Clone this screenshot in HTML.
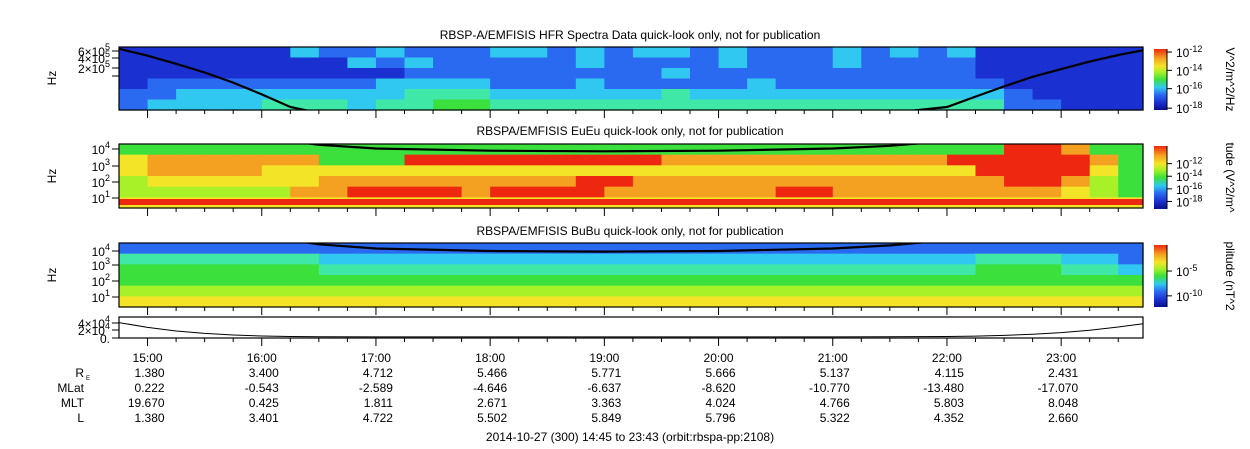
<!DOCTYPE html>
<html><head><meta charset="utf-8"><style>
html,body{margin:0;padding:0;background:#fff}
svg{display:block;font-family:"Liberation Sans",sans-serif}
</style></head><body>
<svg id="c" width="1250" height="449" viewBox="0 0 1250 449">
<defs>
<linearGradient id="cbg" x1="0" y1="1" x2="0" y2="0">
<stop offset="0" stop-color="#08108c"/><stop offset="0.12" stop-color="#1a30d0"/><stop offset="0.25" stop-color="#2a6af0"/>
<stop offset="0.37" stop-color="#30c8f0"/><stop offset="0.5" stop-color="#3ce03c"/><stop offset="0.62" stop-color="#a8f028"/>
<stop offset="0.72" stop-color="#f4e428"/><stop offset="0.85" stop-color="#f4a020"/><stop offset="1" stop-color="#ee2810"/>
</linearGradient>
</defs>
<g id="root"></g>
</svg>
<script>
const tStart = 14.75, tEnd = 23.7167;
const hourTicks = [15,16,17,18,19,20,21,22,23];
const hourLabels = ["15:00","16:00","17:00","18:00","19:00","20:00","21:00","22:00","23:00"];
const reVals = ["1.380","3.400","4.712","5.466","5.771","5.666","5.137","4.115","2.431"];
const mlatVals = ["0.222","-0.543","-2.589","-4.646","-6.637","-8.620","-10.770","-13.480","-17.070"];
const mltVals = ["19.670","0.425","1.811","2.671","3.363","4.024","4.766","5.803","8.048"];
const lVals = ["1.380","3.401","4.722","5.502","5.849","5.796","5.322","4.352","2.660"];
const hfrRows = [
"111111322322233232332322232323111111",
"111111113232222232222322232222111111",
"111111111122222222232222222222111111",
"122222222333322232222232222222211111",
"223333333344433333343333333333321111",
"233334443445544444444444444444422111"];
const eRows = [
"555555555555555555555555555555599855",
"788888855599999999988888888889999985",
"788887777777777777777777777777999975",
"677777788888888899888888888888899865",
"666666889999899998888889988888888765",
"777777777777777777777777777777777777"];
const bRows = [
"222222222222222222222222222222222222",
"444444433333333333333333333333444332",
"555555544444444444444444444444555443",
"555555555555555555555555555555555555",
"666666666666666666666666666666666666",
"777777777777777777777777777777777777"];
const fceTimes = [14.75,15.0,15.25,15.5,15.75,16.0,16.25,16.5,17,18,19,20,21,21.5,22,22.25,22.5,22.75,23,23.25,23.5,23.7167];
const fceVals = [36,24,15,9,5,2.5,1.2,0.6,0.3,0.2,0.18,0.2,0.3,0.5,1.2,2.2,4,7,11,17,25,33];

const palette = ['#08108c','#1a30d0','#2a6af0','#30c8f0','#40e8a8','#3ce03c','#a8f028','#f4e428','#f4a020','#ee2810'];
const root = document.getElementById('root');
const NS = 'http://www.w3.org/2000/svg';
const X0 = 119, X1 = 1143;
function xs(t){ return X0 + (t - tStart) / (tEnd - tStart) * (X1 - X0); }
function mk(tag, attrs, parent){ const e = document.createElementNS(NS, tag); for (const k in attrs) e.setAttribute(k, attrs[k]); (parent||root).appendChild(e); return e; }
function txt(s, x, y, anchor, size, parent){ const e = mk('text', {x:x, y:y, 'text-anchor':anchor||'start', 'font-size':size||12, fill:'#000'}, parent); e.textContent = s; return e; }

function spectro(rows, y0, y1, name){
  const g = mk('g', {});
  
  
  const nr = rows.length, nc = rows[0].length, h = (y1 - y0) / nr;
  for (let r = 0; r < nr; r++) for (let c = 0; c < nc; c++) {
    const ta = tStart + c * 0.25, tb = Math.min(tEnd, ta + 0.25);
    const cell = mk('rect', {x: xs(ta), y: y0 + r * h, width: xs(tb) - xs(ta) + 0.6, height: h + 0.6, fill: palette[+rows[r][c]]}, g);
    
    
  }
  return g;
}
function frame(y0, y1, name){
  const f = mk('rect', {x: X0, y: y0, width: X1 - X0, height: y1 - y0, fill: 'none', stroke: '#000', 'stroke-width': 1.2});
  
  
  for (let t = 15; t <= 23.5; t += 0.25) {
    const major = Math.abs(t - Math.round(t)) < 1e-6;
    mk('line', {x1: xs(t), x2: xs(t), y1: y1, y2: y1 + (major ? 8 : 4), stroke: '#000'});
  }
}
// log-scaled curve: vTop at panel top, decades = decades spanned by panel
function curve(y0, y1, vTop, decades, cls, name){
  let d = '';
  fceTimes.forEach((t, i) => {
    const y = y0 + Math.log10(vTop / fceVals[i]) / decades * (y1 - y0);
    d += (i ? 'L' : 'M') + xs(t).toFixed(1) + ',' + Math.max(y0 - 3, Math.min(y1 + 3, y)).toFixed(1);
  });
  const p = mk('path', {d: d, fill: 'none', stroke: '#000', 'stroke-width': 2.2, 'clip-path': 'url(#' + cls + ')'});
  
  
}
function clip(id, y0, y1){ const cp = mk('clipPath', {id: id}); mk('rect', {x: X0, y: y0, width: X1 - X0, height: y1 - y0}, cp); }
function colorbar(y0, y1, labels, unit, name){
  const g = mk('g', {});
  
  
  mk('rect', {x: 1154, y: y0, width: 13, height: y1 - y0, fill: 'url(#cbg)'}, g);
  mk('line', {x1: 1167, x2: 1167, y1: y0, y2: y1, stroke: '#000'}, g);
  labels.forEach(l => {
    const y = y0 + (+l[1]) * (y1 - y0);
    mk('line', {x1: 1167, x2: 1172, y1: y, y2: y, stroke: '#000'}, g);
    const t = mk('text', {x: 1176, y: y + 5, 'font-size': 12}, g);
    t.textContent = l[0];
    const s = mk('tspan', {dy: -5, 'font-size': 9}, t); s.textContent = l[2];
  });
  const u = mk('text', {x: 0, y: 0, 'font-size': 12, transform: 'translate(1226,' + ((y0 + y1) / 2) + ') rotate(90)', 'text-anchor': 'middle'}, g);
  u.textContent = unit;
}
function ylab(s, y){ const e = mk('text', {'font-size': 12, 'text-anchor': 'middle', transform: 'translate(56,' + y + ') rotate(-90)'}); e.textContent = s;   }
function ytick(label, sup, y){ mk('line', {x1: 112, x2: X0, y1: y, y2: y, stroke: '#000'}); const t = mk('text', {x: 110, y: y + 5, 'font-size': 12, 'text-anchor': 'end'}); t.textContent = label; if (sup) { const s = mk('tspan', {dy: -6, 'font-size': 9}, t); s.textContent = sup; } }

clip('c1', 47, 110); clip('c2', 144, 208); clip('c3', 243, 307);

// panel 1
let tt = txt('RBSP-A/EMFISIS  HFR Spectra Data quick-look only, not for publication', 630, 39, 'middle', 12);
 
spectro(hfrRows, 47, 110, 'hfr-spectrogram');
curve(47, 110, 40, 1.6, 'c1', 'hfr-gyrofrequency-line');
frame(47, 110, 'hfr-panel-frame');
ytick('6×10', '5', 51); ytick('4×10', '5', 58); ytick('2×10', '5', 68); mk('line', {x1: 112, x2: X0, y1: 76, y2: 76, stroke: '#000'});
ylab('Hz', 78);
colorbar(49, 110, [['10','0.05','-12'],['10','0.35','-14'],['10','0.65','-16'],['10','0.97','-18']], 'V^2/m^2/Hz', 'hfr-colorbar');

// panel 2
tt = txt('RBSPA/EMFISIS  EuEu quick-look only, not for publication', 630, 135, 'middle', 12);
 
spectro(eRows, 144, 208, 'eueu-spectrogram');
const rs = mk('rect', {x: X0, y: 199, width: X1 - X0, height: 6, fill: palette[9]});  
curve(144, 208, 0.7, 5.2, 'c2', 'eueu-gyrofrequency-line');
frame(144, 208, 'eueu-panel-frame');
ytick('10', '4', 149); ytick('10', '3', 166); ytick('10', '2', 182); ytick('10', '1', 198);
ylab('Hz', 176);
colorbar(146, 209, [['10','0.28','-12'],['10','0.48','-14'],['10','0.68','-16'],['10','0.88','-18']], 'tude (V^2/m^', 'eueu-colorbar');

// panel 3
tt = txt('RBSPA/EMFISIS  BuBu quick-look only, not for publication', 630, 235, 'middle', 12);
 
spectro(bRows, 243, 307, 'bubu-spectrogram');
curve(243, 307, 0.75, 4.6, 'c3', 'bubu-gyrofrequency-line');
frame(243, 307, 'bubu-panel-frame');
ytick('10', '4', 251); ytick('10', '3', 265); ytick('10', '2', 281); ytick('10', '1', 297);
ylab('Hz', 275);
colorbar(245, 307, [['10','0.42','-5'],['10','0.82','-10']], 'plitude (nT^2', 'bubu-colorbar');

// panel 4
const p4 = mk('rect', {x: X0, y: 317, width: X1 - X0, height: 21, fill: '#fff', stroke: '#000', 'stroke-width': 1.2});
 
{ let d=''; fceTimes.forEach((t,i)=>{ d += (i?'L':'M') + xs(t).toFixed(1) + ',' + (337 - fceVals[i] / 50 * 20).toFixed(1); });
  const p = mk('path', {d: d, fill: 'none', stroke: '#000', 'stroke-width': 1});
    }
for (let t = 15; t <= 23.5; t += 0.25) { const major = Math.abs(t - Math.round(t)) < 1e-6; mk('line', {x1: xs(t), x2: xs(t), y1: 338, y2: 338 + (major ? 8 : 4), stroke: '#000'}); }
ytick('4×10', '4', 323); ytick('2×10', '4', 330); ytick('0.', '', 338);

// annotations
const labels = [['R', 377], ['MLat', 392], ['MLT', 407], ['L', 422]];
labels.forEach(l => { const t = txt(l[0], 84, l[1], 'end', 12);   });
txt('E', 86, 380, 'start', 6);
const rows = [reVals, mlatVals, mltVals, lVals];
hourTicks.forEach((h, i) => {
  const x = xs(h);
  const t = txt(hourLabels[i], x, 362, 'middle', 12);
   
  rows.forEach((r, j) => { const v = txt(r[i], x + 17, 377 + j * 15, 'end', 12);   });
});
tt = txt('2014-10-27 (300) 14:45 to 23:43 (orbit:rbspa-pp:2108)', 630, 441, 'middle', 12);
 
</script>
</body></html>
